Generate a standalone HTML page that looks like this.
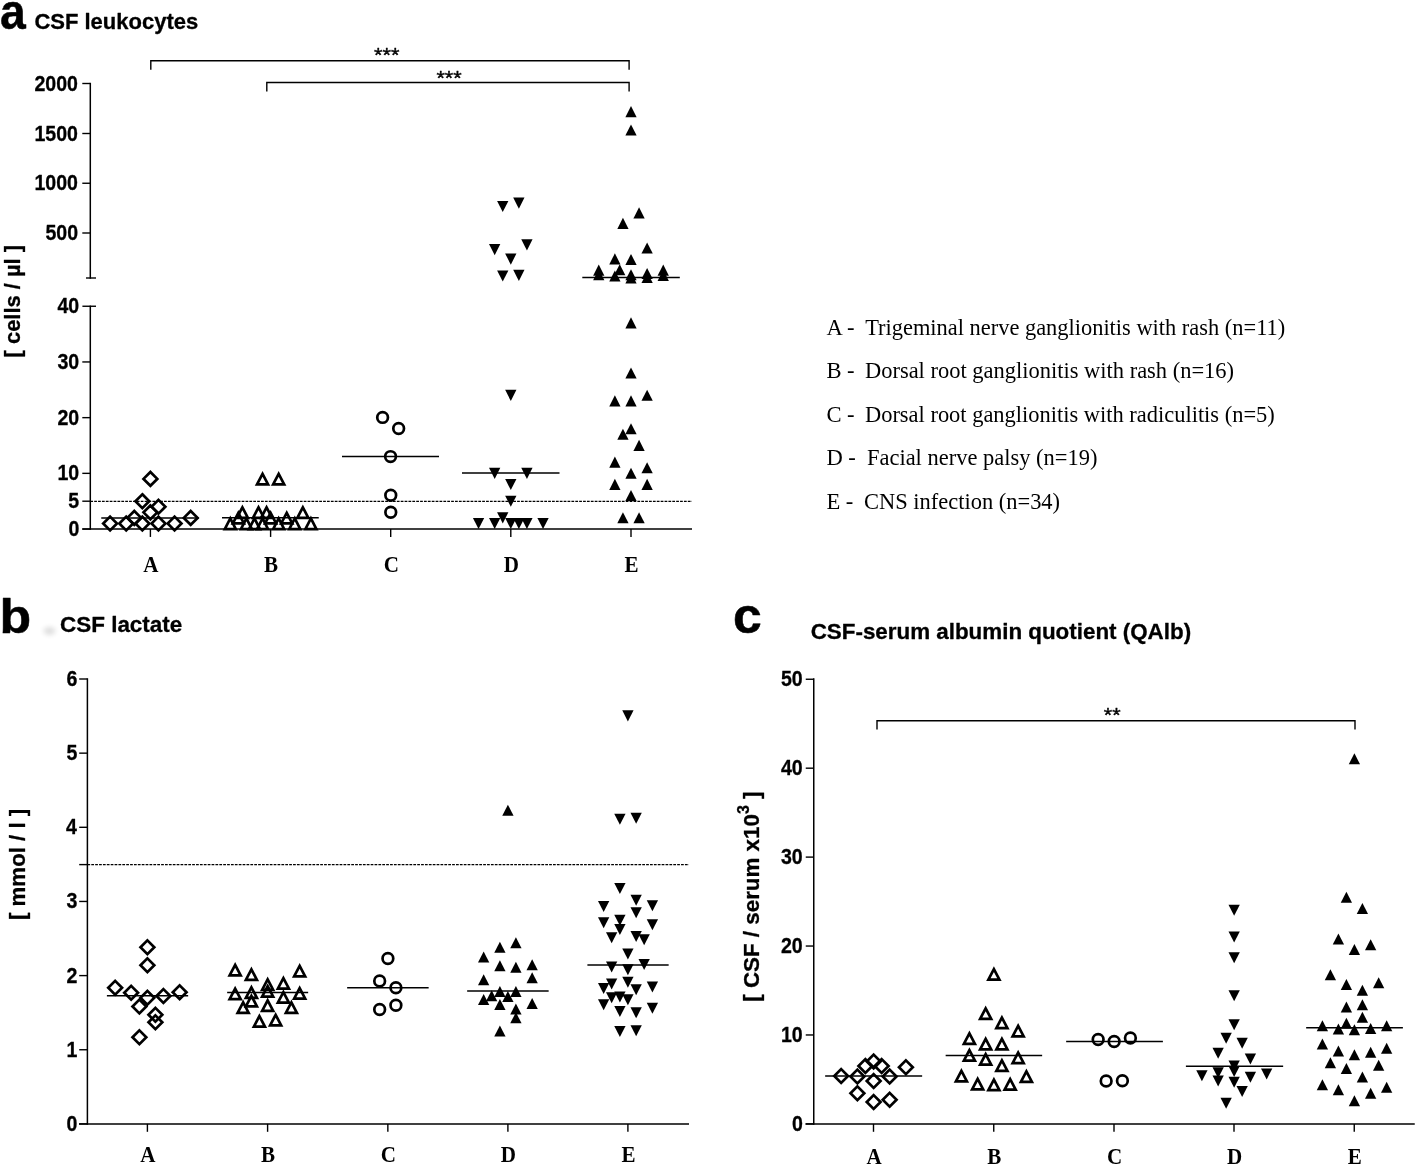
<!DOCTYPE html>
<html lang="en"><head><meta charset="utf-8"><title>CSF parameters</title>
<style>
html,body{margin:0;padding:0;background:#fff;}
body{width:1418px;height:1167px;overflow:hidden;}
svg{display:block;}
</style></head><body>
<svg width="1418" height="1167" viewBox="0 0 1418 1167">
<rect width="1418" height="1167" fill="#fff"/>
<text transform="translate(0.06,29.20) scale(0.9257,1)" font-family='"Liberation Sans", sans-serif' font-size="50" font-weight="bold" fill="#000" stroke="#000" stroke-width="0.5" stroke-linejoin="round" xml:space="preserve">a</text>
<text transform="translate(34.38,29.00) scale(1.0054,1)" font-family='"Liberation Sans", sans-serif' font-size="21.9" font-weight="bold" fill="#000" stroke="#000" stroke-width="0.3" stroke-linejoin="round" xml:space="preserve">CSF leukocytes</text>
<line x1="90.30" y1="82.80" x2="90.30" y2="278.70" stroke="#000" stroke-width="1.5" />
<line x1="82.30" y1="83.50" x2="90.30" y2="83.50" stroke="#000" stroke-width="1.4" />
<text transform="translate(34.48,90.50) scale(0.9100,1)" font-family='"Liberation Sans", sans-serif' font-size="21.5" font-weight="bold" fill="#000" stroke="#000" stroke-width="0.3" stroke-linejoin="round" xml:space="preserve">2000</text>
<line x1="82.30" y1="133.50" x2="90.30" y2="133.50" stroke="#000" stroke-width="1.4" />
<text transform="translate(34.48,140.50) scale(0.9100,1)" font-family='"Liberation Sans", sans-serif' font-size="21.5" font-weight="bold" fill="#000" stroke="#000" stroke-width="0.3" stroke-linejoin="round" xml:space="preserve">1500</text>
<line x1="82.30" y1="183.25" x2="90.30" y2="183.25" stroke="#000" stroke-width="1.4" />
<text transform="translate(34.48,190.25) scale(0.9100,1)" font-family='"Liberation Sans", sans-serif' font-size="21.5" font-weight="bold" fill="#000" stroke="#000" stroke-width="0.3" stroke-linejoin="round" xml:space="preserve">1000</text>
<line x1="82.30" y1="233.00" x2="90.30" y2="233.00" stroke="#000" stroke-width="1.4" />
<text transform="translate(45.41,240.00) scale(0.9100,1)" font-family='"Liberation Sans", sans-serif' font-size="21.5" font-weight="bold" fill="#000" stroke="#000" stroke-width="0.3" stroke-linejoin="round" xml:space="preserve">500</text>
<line x1="86.00" y1="278.00" x2="96.00" y2="278.00" stroke="#000" stroke-width="1.4" />
<line x1="90.30" y1="305.60" x2="90.30" y2="529.80" stroke="#000" stroke-width="1.5" />
<line x1="82.40" y1="306.25" x2="96.00" y2="306.25" stroke="#000" stroke-width="1.4" />
<text transform="translate(57.47,313.25) scale(0.9100,1)" font-family='"Liberation Sans", sans-serif' font-size="21.5" font-weight="bold" fill="#000" stroke="#000" stroke-width="0.3" stroke-linejoin="round" xml:space="preserve">40</text>
<line x1="82.30" y1="361.95" x2="90.30" y2="361.95" stroke="#000" stroke-width="1.4" />
<text transform="translate(57.47,368.95) scale(0.9100,1)" font-family='"Liberation Sans", sans-serif' font-size="21.5" font-weight="bold" fill="#000" stroke="#000" stroke-width="0.3" stroke-linejoin="round" xml:space="preserve">30</text>
<line x1="82.30" y1="417.65" x2="90.30" y2="417.65" stroke="#000" stroke-width="1.4" />
<text transform="translate(57.47,424.65) scale(0.9100,1)" font-family='"Liberation Sans", sans-serif' font-size="21.5" font-weight="bold" fill="#000" stroke="#000" stroke-width="0.3" stroke-linejoin="round" xml:space="preserve">20</text>
<line x1="82.30" y1="473.35" x2="90.30" y2="473.35" stroke="#000" stroke-width="1.4" />
<text transform="translate(57.47,480.35) scale(0.9100,1)" font-family='"Liberation Sans", sans-serif' font-size="21.5" font-weight="bold" fill="#000" stroke="#000" stroke-width="0.3" stroke-linejoin="round" xml:space="preserve">10</text>
<line x1="82.30" y1="501.20" x2="90.30" y2="501.20" stroke="#000" stroke-width="1.4" />
<text transform="translate(68.23,508.20) scale(0.9100,1)" font-family='"Liberation Sans", sans-serif' font-size="21.5" font-weight="bold" fill="#000" stroke="#000" stroke-width="0.3" stroke-linejoin="round" xml:space="preserve">5</text>
<line x1="82.30" y1="529.05" x2="90.30" y2="529.05" stroke="#000" stroke-width="1.4" />
<text transform="translate(68.39,536.05) scale(0.9100,1)" font-family='"Liberation Sans", sans-serif' font-size="21.5" font-weight="bold" fill="#000" stroke="#000" stroke-width="0.3" stroke-linejoin="round" xml:space="preserve">0</text>
<line x1="82.30" y1="529.05" x2="692.00" y2="529.05" stroke="#000" stroke-width="1.5" />
<line x1="150.40" y1="529.05" x2="150.40" y2="536.95" stroke="#000" stroke-width="1.4" />
<text transform="translate(150.95,571.70) scale(0.945,1)" font-family='"Liberation Serif", serif' font-size="22.3" font-weight="bold" text-anchor="middle" fill="#000">A</text>
<line x1="270.60" y1="529.05" x2="270.60" y2="536.95" stroke="#000" stroke-width="1.4" />
<text transform="translate(271.15,571.70) scale(0.945,1)" font-family='"Liberation Serif", serif' font-size="22.3" font-weight="bold" text-anchor="middle" fill="#000">B</text>
<line x1="390.70" y1="529.05" x2="390.70" y2="536.95" stroke="#000" stroke-width="1.4" />
<text transform="translate(391.25,571.70) scale(0.945,1)" font-family='"Liberation Serif", serif' font-size="22.3" font-weight="bold" text-anchor="middle" fill="#000">C</text>
<line x1="510.80" y1="529.05" x2="510.80" y2="536.95" stroke="#000" stroke-width="1.4" />
<text transform="translate(511.35,571.70) scale(0.945,1)" font-family='"Liberation Serif", serif' font-size="22.3" font-weight="bold" text-anchor="middle" fill="#000">D</text>
<line x1="631.00" y1="529.05" x2="631.00" y2="536.95" stroke="#000" stroke-width="1.4" />
<text transform="translate(631.55,571.70) scale(0.945,1)" font-family='"Liberation Serif", serif' font-size="22.3" font-weight="bold" text-anchor="middle" fill="#000">E</text>
<line x1="90.30" y1="501.45" x2="692.00" y2="501.45" stroke="#000" stroke-width="1.3" stroke-dasharray="2.75 1.13"/>
<text transform="translate(19.60,357.38) rotate(-90) scale(0.9736,1)" font-family='"Liberation Sans", sans-serif' font-size="22.5" font-weight="bold" fill="#000" stroke="#000" stroke-width="0.3" stroke-linejoin="round" xml:space="preserve">[ cells / µl ]</text>
<polyline points="150.80,69.75 150.80,60.75 629.10,60.75 629.10,69.75" fill="none" stroke="#000" stroke-width="1.4"/>
<polyline points="266.80,91.50 266.80,82.50 629.10,82.50 629.10,91.50" fill="none" stroke="#000" stroke-width="1.4"/>
<text transform="translate(374.04,62.10) scale(1.1007,1)" font-family='"Liberation Sans", sans-serif' font-size="19.8" font-weight="normal" fill="#000" stroke="#000" stroke-width="0.35" stroke-linejoin="round" xml:space="preserve">***</text>
<text transform="translate(436.44,84.50) scale(1.0918,1)" font-family='"Liberation Sans", sans-serif' font-size="19.8" font-weight="normal" fill="#000" stroke="#000" stroke-width="0.35" stroke-linejoin="round" xml:space="preserve">***</text>
<polygon points="150.40,472.02 157.30,478.92 150.40,485.82 143.50,478.92" fill="none" stroke="#000" stroke-width="2.7" stroke-linejoin="miter"/>
<polygon points="142.34,494.30 149.24,501.20 142.34,508.10 135.44,501.20" fill="none" stroke="#000" stroke-width="2.7" stroke-linejoin="miter"/>
<polygon points="158.46,499.87 165.36,506.77 158.46,513.67 151.56,506.77" fill="none" stroke="#000" stroke-width="2.7" stroke-linejoin="miter"/>
<polygon points="150.40,505.44 157.30,512.34 150.40,519.24 143.50,512.34" fill="none" stroke="#000" stroke-width="2.7" stroke-linejoin="miter"/>
<polygon points="134.28,511.01 141.18,517.91 134.28,524.81 127.38,517.91" fill="none" stroke="#000" stroke-width="2.7" stroke-linejoin="miter"/>
<polygon points="190.70,511.01 197.60,517.91 190.70,524.81 183.80,517.91" fill="none" stroke="#000" stroke-width="2.7" stroke-linejoin="miter"/>
<polygon points="110.10,516.58 117.00,523.48 110.10,530.38 103.20,523.48" fill="none" stroke="#000" stroke-width="2.7" stroke-linejoin="miter"/>
<polygon points="126.22,516.58 133.12,523.48 126.22,530.38 119.32,523.48" fill="none" stroke="#000" stroke-width="2.7" stroke-linejoin="miter"/>
<polygon points="142.34,516.58 149.24,523.48 142.34,530.38 135.44,523.48" fill="none" stroke="#000" stroke-width="2.7" stroke-linejoin="miter"/>
<polygon points="158.46,516.58 165.36,523.48 158.46,530.38 151.56,523.48" fill="none" stroke="#000" stroke-width="2.7" stroke-linejoin="miter"/>
<polygon points="174.58,516.58 181.48,523.48 174.58,530.38 167.68,523.48" fill="none" stroke="#000" stroke-width="2.7" stroke-linejoin="miter"/>
<line x1="101.25" y1="517.95" x2="198.75" y2="517.95" stroke="#000" stroke-width="1.5" />
<polygon points="262.54,473.93 268.06,484.47 257.02,484.47" fill="none" stroke="#000" stroke-width="2.7" stroke-linejoin="miter" stroke-miterlimit="10"/>
<polygon points="278.66,473.93 284.18,484.47 273.14,484.47" fill="none" stroke="#000" stroke-width="2.7" stroke-linejoin="miter" stroke-miterlimit="10"/>
<polygon points="242.39,507.35 247.91,517.89 236.87,517.89" fill="none" stroke="#000" stroke-width="2.7" stroke-linejoin="miter" stroke-miterlimit="10"/>
<polygon points="258.51,507.35 264.03,517.89 252.99,517.89" fill="none" stroke="#000" stroke-width="2.7" stroke-linejoin="miter" stroke-miterlimit="10"/>
<polygon points="266.57,507.35 272.09,517.89 261.05,517.89" fill="none" stroke="#000" stroke-width="2.7" stroke-linejoin="miter" stroke-miterlimit="10"/>
<polygon points="302.84,507.35 308.36,517.89 297.32,517.89" fill="none" stroke="#000" stroke-width="2.7" stroke-linejoin="miter" stroke-miterlimit="10"/>
<polygon points="238.36,512.92 243.88,523.46 232.84,523.46" fill="none" stroke="#000" stroke-width="2.7" stroke-linejoin="miter" stroke-miterlimit="10"/>
<polygon points="270.60,512.92 276.12,523.46 265.08,523.46" fill="none" stroke="#000" stroke-width="2.7" stroke-linejoin="miter" stroke-miterlimit="10"/>
<polygon points="286.72,512.92 292.24,523.46 281.20,523.46" fill="none" stroke="#000" stroke-width="2.7" stroke-linejoin="miter" stroke-miterlimit="10"/>
<polygon points="230.30,518.49 235.82,529.03 224.78,529.03" fill="none" stroke="#000" stroke-width="2.7" stroke-linejoin="miter" stroke-miterlimit="10"/>
<polygon points="246.42,518.49 251.94,529.03 240.90,529.03" fill="none" stroke="#000" stroke-width="2.7" stroke-linejoin="miter" stroke-miterlimit="10"/>
<polygon points="254.48,518.49 260.00,529.03 248.96,529.03" fill="none" stroke="#000" stroke-width="2.7" stroke-linejoin="miter" stroke-miterlimit="10"/>
<polygon points="262.54,518.49 268.06,529.03 257.02,529.03" fill="none" stroke="#000" stroke-width="2.7" stroke-linejoin="miter" stroke-miterlimit="10"/>
<polygon points="278.66,518.49 284.18,529.03 273.14,529.03" fill="none" stroke="#000" stroke-width="2.7" stroke-linejoin="miter" stroke-miterlimit="10"/>
<polygon points="294.78,518.49 300.30,529.03 289.26,529.03" fill="none" stroke="#000" stroke-width="2.7" stroke-linejoin="miter" stroke-miterlimit="10"/>
<polygon points="310.90,518.49 316.42,529.03 305.38,529.03" fill="none" stroke="#000" stroke-width="2.7" stroke-linejoin="miter" stroke-miterlimit="10"/>
<line x1="222.00" y1="517.75" x2="318.75" y2="517.75" stroke="#000" stroke-width="1.5" />
<circle cx="382.60" cy="417.40" r="5.35" fill="none" stroke="#000" stroke-width="2.7"/>
<circle cx="398.65" cy="428.56" r="5.35" fill="none" stroke="#000" stroke-width="2.7"/>
<circle cx="390.55" cy="456.60" r="5.35" fill="none" stroke="#000" stroke-width="2.7"/>
<circle cx="390.75" cy="495.25" r="5.35" fill="none" stroke="#000" stroke-width="2.7"/>
<circle cx="390.75" cy="512.25" r="5.35" fill="none" stroke="#000" stroke-width="2.7"/>
<line x1="342.00" y1="456.60" x2="439.00" y2="456.60" stroke="#000" stroke-width="1.5" />
<polygon points="502.74,212.05 508.39,200.95 497.09,200.95" fill="#000"/>
<polygon points="518.86,208.65 524.51,197.55 513.21,197.55" fill="#000"/>
<polygon points="526.92,250.45 532.57,239.35 521.27,239.35" fill="#000"/>
<polygon points="494.68,255.15 500.33,244.05 489.03,244.05" fill="#000"/>
<polygon points="510.80,264.65 516.45,253.55 505.15,253.55" fill="#000"/>
<polygon points="502.74,281.55 508.39,270.45 497.09,270.45" fill="#000"/>
<polygon points="518.86,280.95 524.51,269.85 513.21,269.85" fill="#000"/>
<polygon points="510.80,400.92 516.45,389.82 505.15,389.82" fill="#000"/>
<polygon points="494.68,478.90 500.33,467.80 489.03,467.80" fill="#000"/>
<polygon points="526.92,478.90 532.57,467.80 521.27,467.80" fill="#000"/>
<polygon points="510.80,490.04 516.45,478.94 505.15,478.94" fill="#000"/>
<polygon points="510.80,506.75 516.45,495.65 505.15,495.65" fill="#000"/>
<polygon points="502.74,523.46 508.39,512.36 497.09,512.36" fill="#000"/>
<polygon points="478.56,529.03 484.21,517.93 472.91,517.93" fill="#000"/>
<polygon points="494.68,529.03 500.33,517.93 489.03,517.93" fill="#000"/>
<polygon points="510.80,529.03 516.45,517.93 505.15,517.93" fill="#000"/>
<polygon points="518.86,529.03 524.51,517.93 513.21,517.93" fill="#000"/>
<polygon points="526.92,529.03 532.57,517.93 521.27,517.93" fill="#000"/>
<polygon points="543.04,529.03 548.69,517.93 537.39,517.93" fill="#000"/>
<line x1="462.00" y1="473.10" x2="559.50" y2="473.10" stroke="#000" stroke-width="1.5" />
<polygon points="631.00,106.05 636.65,117.15 625.35,117.15" fill="#000"/>
<polygon points="631.00,124.45 636.65,135.55 625.35,135.55" fill="#000"/>
<polygon points="639.06,207.35 644.71,218.45 633.41,218.45" fill="#000"/>
<polygon points="622.94,217.85 628.59,228.95 617.29,228.95" fill="#000"/>
<polygon points="647.12,242.45 652.77,253.55 641.47,253.55" fill="#000"/>
<polygon points="614.88,253.35 620.53,264.45 609.23,264.45" fill="#000"/>
<polygon points="631.00,253.95 636.65,265.05 625.35,265.05" fill="#000"/>
<polygon points="598.76,264.55 604.41,275.65 593.11,275.65" fill="#000"/>
<polygon points="598.76,269.15 604.41,280.25 593.11,280.25" fill="#000"/>
<polygon points="614.88,270.45 620.53,281.55 609.23,281.55" fill="#000"/>
<polygon points="619.72,264.25 625.37,275.35 614.07,275.35" fill="#000"/>
<polygon points="631.00,269.15 636.65,280.25 625.35,280.25" fill="#000"/>
<polygon points="631.00,272.45 636.65,283.55 625.35,283.55" fill="#000"/>
<polygon points="647.12,267.95 652.77,279.05 641.47,279.05" fill="#000"/>
<polygon points="647.12,271.95 652.77,283.05 641.47,283.05" fill="#000"/>
<polygon points="663.24,264.55 668.89,275.65 657.59,275.65" fill="#000"/>
<polygon points="663.24,269.85 668.89,280.95 657.59,280.95" fill="#000"/>
<polygon points="631.00,317.31 636.65,328.41 625.35,328.41" fill="#000"/>
<polygon points="631.00,367.44 636.65,378.54 625.35,378.54" fill="#000"/>
<polygon points="647.12,389.72 652.77,400.82 641.47,400.82" fill="#000"/>
<polygon points="614.88,395.29 620.53,406.39 609.23,406.39" fill="#000"/>
<polygon points="631.00,395.29 636.65,406.39 625.35,406.39" fill="#000"/>
<polygon points="631.00,423.14 636.65,434.24 625.35,434.24" fill="#000"/>
<polygon points="622.94,428.71 628.59,439.81 617.29,439.81" fill="#000"/>
<polygon points="639.06,439.85 644.71,450.95 633.41,450.95" fill="#000"/>
<polygon points="614.88,456.56 620.53,467.66 609.23,467.66" fill="#000"/>
<polygon points="647.12,462.13 652.77,473.23 641.47,473.23" fill="#000"/>
<polygon points="631.00,467.70 636.65,478.80 625.35,478.80" fill="#000"/>
<polygon points="614.88,478.84 620.53,489.94 609.23,489.94" fill="#000"/>
<polygon points="647.12,478.84 652.77,489.94 641.47,489.94" fill="#000"/>
<polygon points="631.00,489.98 636.65,501.08 625.35,501.08" fill="#000"/>
<polygon points="622.94,512.26 628.59,523.36 617.29,523.36" fill="#000"/>
<polygon points="639.06,512.26 644.71,523.36 633.41,523.36" fill="#000"/>
<line x1="582.30" y1="277.60" x2="679.80" y2="277.60" stroke="#000" stroke-width="1.5" />
<text x="826.40" y="334.50" font-family='"Liberation Serif", serif' font-size="22.6" font-weight="normal" text-anchor="start" fill="#000" >A -</text>
<text transform="translate(865.13,334.50) scale(0.9928,1)" font-family='"Liberation Serif", serif' font-size="22.6" font-weight="normal" fill="#000" xml:space="preserve">Trigeminal nerve ganglionitis with rash (n=11)</text>
<text x="826.40" y="378.25" font-family='"Liberation Serif", serif' font-size="22.6" font-weight="normal" text-anchor="start" fill="#000" >B -</text>
<text transform="translate(864.94,378.25) scale(0.9952,1)" font-family='"Liberation Serif", serif' font-size="22.6" font-weight="normal" fill="#000" xml:space="preserve">Dorsal root ganglionitis with rash (n=16)</text>
<text x="826.40" y="421.50" font-family='"Liberation Serif", serif' font-size="22.6" font-weight="normal" text-anchor="start" fill="#000" >C -</text>
<text transform="translate(864.94,421.50) scale(0.9941,1)" font-family='"Liberation Serif", serif' font-size="22.6" font-weight="normal" fill="#000" xml:space="preserve">Dorsal root ganglionitis with radiculitis (n=5)</text>
<text x="826.40" y="465.25" font-family='"Liberation Serif", serif' font-size="22.6" font-weight="normal" text-anchor="start" fill="#000" >D -</text>
<text transform="translate(866.94,465.25) scale(0.9950,1)" font-family='"Liberation Serif", serif' font-size="22.6" font-weight="normal" fill="#000" xml:space="preserve">Facial nerve palsy (n=19)</text>
<text x="826.40" y="509.00" font-family='"Liberation Serif", serif' font-size="22.6" font-weight="normal" text-anchor="start" fill="#000" >E -</text>
<text transform="translate(864.06,509.00) scale(0.9946,1)" font-family='"Liberation Serif", serif' font-size="22.6" font-weight="normal" fill="#000" xml:space="preserve">CNS infection (n=34)</text>
<defs><filter id="bl" x="-100%" y="-100%" width="300%" height="300%"><feGaussianBlur stdDeviation="2.6"/></filter></defs>
<ellipse cx="49.5" cy="631" rx="6" ry="4" fill="#000" opacity="0.13" filter="url(#bl)"/>
<text transform="translate(-0.55,633.20) scale(1.0680,1)" font-family='"Liberation Sans", sans-serif' font-size="48.5" font-weight="bold" fill="#000" stroke="#000" stroke-width="0.5" stroke-linejoin="round" xml:space="preserve">b</text>
<text transform="translate(60.06,631.60) scale(1.0253,1)" font-family='"Liberation Sans", sans-serif' font-size="21.9" font-weight="bold" fill="#000" stroke="#000" stroke-width="0.3" stroke-linejoin="round" xml:space="preserve">CSF lactate</text>
<line x1="87.40" y1="678.30" x2="87.40" y2="1124.65" stroke="#000" stroke-width="1.5" />
<line x1="79.20" y1="1123.90" x2="87.40" y2="1123.90" stroke="#000" stroke-width="1.4" />
<text transform="translate(66.59,1130.90) scale(0.9100,1)" font-family='"Liberation Sans", sans-serif' font-size="21.5" font-weight="bold" fill="#000" stroke="#000" stroke-width="0.3" stroke-linejoin="round" xml:space="preserve">0</text>
<line x1="79.20" y1="1049.75" x2="87.40" y2="1049.75" stroke="#000" stroke-width="1.4" />
<text transform="translate(66.43,1056.75) scale(0.9100,1)" font-family='"Liberation Sans", sans-serif' font-size="21.5" font-weight="bold" fill="#000" stroke="#000" stroke-width="0.3" stroke-linejoin="round" xml:space="preserve">1</text>
<line x1="79.20" y1="975.60" x2="87.40" y2="975.60" stroke="#000" stroke-width="1.4" />
<text transform="translate(66.59,982.60) scale(0.9100,1)" font-family='"Liberation Sans", sans-serif' font-size="21.5" font-weight="bold" fill="#000" stroke="#000" stroke-width="0.3" stroke-linejoin="round" xml:space="preserve">2</text>
<line x1="79.20" y1="901.45" x2="87.40" y2="901.45" stroke="#000" stroke-width="1.4" />
<text transform="translate(66.59,908.45) scale(0.9100,1)" font-family='"Liberation Sans", sans-serif' font-size="21.5" font-weight="bold" fill="#000" stroke="#000" stroke-width="0.3" stroke-linejoin="round" xml:space="preserve">3</text>
<line x1="79.20" y1="827.30" x2="87.40" y2="827.30" stroke="#000" stroke-width="1.4" />
<text transform="translate(65.94,834.30) scale(0.9100,1)" font-family='"Liberation Sans", sans-serif' font-size="21.5" font-weight="bold" fill="#000" stroke="#000" stroke-width="0.3" stroke-linejoin="round" xml:space="preserve">4</text>
<line x1="79.20" y1="753.15" x2="87.40" y2="753.15" stroke="#000" stroke-width="1.4" />
<text transform="translate(66.43,760.15) scale(0.9100,1)" font-family='"Liberation Sans", sans-serif' font-size="21.5" font-weight="bold" fill="#000" stroke="#000" stroke-width="0.3" stroke-linejoin="round" xml:space="preserve">5</text>
<line x1="79.20" y1="679.00" x2="87.40" y2="679.00" stroke="#000" stroke-width="1.4" />
<text transform="translate(66.59,686.00) scale(0.9100,1)" font-family='"Liberation Sans", sans-serif' font-size="21.5" font-weight="bold" fill="#000" stroke="#000" stroke-width="0.3" stroke-linejoin="round" xml:space="preserve">6</text>
<line x1="79.00" y1="1123.90" x2="689.00" y2="1123.90" stroke="#000" stroke-width="1.5" />
<line x1="147.40" y1="1123.90" x2="147.40" y2="1131.80" stroke="#000" stroke-width="1.4" />
<text transform="translate(147.95,1161.80) scale(0.945,1)" font-family='"Liberation Serif", serif' font-size="22.3" font-weight="bold" text-anchor="middle" fill="#000">A</text>
<line x1="267.60" y1="1123.90" x2="267.60" y2="1131.80" stroke="#000" stroke-width="1.4" />
<text transform="translate(268.15,1161.80) scale(0.945,1)" font-family='"Liberation Serif", serif' font-size="22.3" font-weight="bold" text-anchor="middle" fill="#000">B</text>
<line x1="387.85" y1="1123.90" x2="387.85" y2="1131.80" stroke="#000" stroke-width="1.4" />
<text transform="translate(388.40,1161.80) scale(0.945,1)" font-family='"Liberation Serif", serif' font-size="22.3" font-weight="bold" text-anchor="middle" fill="#000">C</text>
<line x1="507.90" y1="1123.90" x2="507.90" y2="1131.80" stroke="#000" stroke-width="1.4" />
<text transform="translate(508.45,1161.80) scale(0.945,1)" font-family='"Liberation Serif", serif' font-size="22.3" font-weight="bold" text-anchor="middle" fill="#000">D</text>
<line x1="627.90" y1="1123.90" x2="627.90" y2="1131.80" stroke="#000" stroke-width="1.4" />
<text transform="translate(628.45,1161.80) scale(0.945,1)" font-family='"Liberation Serif", serif' font-size="22.3" font-weight="bold" text-anchor="middle" fill="#000">E</text>
<line x1="79.20" y1="864.60" x2="87.40" y2="864.60" stroke="#000" stroke-width="1.4" />
<line x1="87.40" y1="864.60" x2="689.00" y2="864.60" stroke="#000" stroke-width="1.3" stroke-dasharray="2.75 1.13"/>
<text transform="translate(25.20,920.00) rotate(-90) scale(0.9893,1)" font-family='"Liberation Sans", sans-serif' font-size="22.5" font-weight="bold" fill="#000" stroke="#000" stroke-width="0.3" stroke-linejoin="round" xml:space="preserve">[ mmol / l ]</text>
<polygon points="147.40,940.40 154.30,947.30 147.40,954.20 140.50,947.30" fill="none" stroke="#000" stroke-width="2.7" stroke-linejoin="miter"/>
<polygon points="147.40,958.40 154.30,965.30 147.40,972.20 140.50,965.30" fill="none" stroke="#000" stroke-width="2.7" stroke-linejoin="miter"/>
<polygon points="115.15,980.90 122.05,987.80 115.15,994.70 108.25,987.80" fill="none" stroke="#000" stroke-width="2.7" stroke-linejoin="miter"/>
<polygon points="131.15,985.90 138.05,992.80 131.15,999.70 124.25,992.80" fill="none" stroke="#000" stroke-width="2.7" stroke-linejoin="miter"/>
<polygon points="179.65,985.40 186.55,992.30 179.65,999.20 172.75,992.30" fill="none" stroke="#000" stroke-width="2.7" stroke-linejoin="miter"/>
<polygon points="163.40,989.15 170.30,996.05 163.40,1002.95 156.50,996.05" fill="none" stroke="#000" stroke-width="2.7" stroke-linejoin="miter"/>
<polygon points="147.40,990.90 154.30,997.80 147.40,1004.70 140.50,997.80" fill="none" stroke="#000" stroke-width="2.7" stroke-linejoin="miter"/>
<polygon points="139.40,999.65 146.30,1006.55 139.40,1013.45 132.50,1006.55" fill="none" stroke="#000" stroke-width="2.7" stroke-linejoin="miter"/>
<polygon points="155.40,1007.90 162.30,1014.80 155.40,1021.70 148.50,1014.80" fill="none" stroke="#000" stroke-width="2.7" stroke-linejoin="miter"/>
<polygon points="155.40,1015.40 162.30,1022.30 155.40,1029.20 148.50,1022.30" fill="none" stroke="#000" stroke-width="2.7" stroke-linejoin="miter"/>
<polygon points="139.40,1030.40 146.30,1037.30 139.40,1044.20 132.50,1037.30" fill="none" stroke="#000" stroke-width="2.7" stroke-linejoin="miter"/>
<line x1="106.90" y1="995.80" x2="188.15" y2="995.80" stroke="#000" stroke-width="1.5" />
<polygon points="235.15,964.81 240.67,975.35 229.63,975.35" fill="none" stroke="#000" stroke-width="2.7" stroke-linejoin="miter" stroke-miterlimit="10"/>
<polygon points="251.40,969.31 256.92,979.85 245.88,979.85" fill="none" stroke="#000" stroke-width="2.7" stroke-linejoin="miter" stroke-miterlimit="10"/>
<polygon points="299.65,965.81 305.17,976.35 294.13,976.35" fill="none" stroke="#000" stroke-width="2.7" stroke-linejoin="miter" stroke-miterlimit="10"/>
<polygon points="267.65,979.31 273.17,989.85 262.13,989.85" fill="none" stroke="#000" stroke-width="2.7" stroke-linejoin="miter" stroke-miterlimit="10"/>
<polygon points="283.40,978.06 288.92,988.60 277.88,988.60" fill="none" stroke="#000" stroke-width="2.7" stroke-linejoin="miter" stroke-miterlimit="10"/>
<polygon points="235.15,988.56 240.67,999.10 229.63,999.10" fill="none" stroke="#000" stroke-width="2.7" stroke-linejoin="miter" stroke-miterlimit="10"/>
<polygon points="251.40,987.31 256.92,997.85 245.88,997.85" fill="none" stroke="#000" stroke-width="2.7" stroke-linejoin="miter" stroke-miterlimit="10"/>
<polygon points="267.65,986.06 273.17,996.60 262.13,996.60" fill="none" stroke="#000" stroke-width="2.7" stroke-linejoin="miter" stroke-miterlimit="10"/>
<polygon points="299.65,988.06 305.17,998.60 294.13,998.60" fill="none" stroke="#000" stroke-width="2.7" stroke-linejoin="miter" stroke-miterlimit="10"/>
<polygon points="283.40,992.06 288.92,1002.60 277.88,1002.60" fill="none" stroke="#000" stroke-width="2.7" stroke-linejoin="miter" stroke-miterlimit="10"/>
<polygon points="251.40,995.81 256.92,1006.35 245.88,1006.35" fill="none" stroke="#000" stroke-width="2.7" stroke-linejoin="miter" stroke-miterlimit="10"/>
<polygon points="243.15,1002.31 248.67,1012.85 237.63,1012.85" fill="none" stroke="#000" stroke-width="2.7" stroke-linejoin="miter" stroke-miterlimit="10"/>
<polygon points="267.65,1000.31 273.17,1010.85 262.13,1010.85" fill="none" stroke="#000" stroke-width="2.7" stroke-linejoin="miter" stroke-miterlimit="10"/>
<polygon points="291.40,1002.31 296.92,1012.85 285.88,1012.85" fill="none" stroke="#000" stroke-width="2.7" stroke-linejoin="miter" stroke-miterlimit="10"/>
<polygon points="259.40,1016.06 264.92,1026.60 253.88,1026.60" fill="none" stroke="#000" stroke-width="2.7" stroke-linejoin="miter" stroke-miterlimit="10"/>
<polygon points="275.65,1014.81 281.17,1025.35 270.13,1025.35" fill="none" stroke="#000" stroke-width="2.7" stroke-linejoin="miter" stroke-miterlimit="10"/>
<line x1="227.15" y1="992.55" x2="308.15" y2="992.55" stroke="#000" stroke-width="1.5" />
<circle cx="387.90" cy="958.55" r="5.35" fill="none" stroke="#000" stroke-width="2.7"/>
<circle cx="379.65" cy="981.05" r="5.35" fill="none" stroke="#000" stroke-width="2.7"/>
<circle cx="395.90" cy="987.80" r="5.35" fill="none" stroke="#000" stroke-width="2.7"/>
<circle cx="395.90" cy="1005.30" r="5.35" fill="none" stroke="#000" stroke-width="2.7"/>
<circle cx="379.65" cy="1009.55" r="5.35" fill="none" stroke="#000" stroke-width="2.7"/>
<line x1="347.15" y1="987.80" x2="428.65" y2="987.80" stroke="#000" stroke-width="1.5" />
<polygon points="507.90,804.65 513.55,815.75 502.25,815.75" fill="#000"/>
<polygon points="515.90,937.25 521.55,948.35 510.25,948.35" fill="#000"/>
<polygon points="499.90,941.75 505.55,952.85 494.25,952.85" fill="#000"/>
<polygon points="483.65,951.50 489.30,962.60 478.00,962.60" fill="#000"/>
<polygon points="499.90,960.25 505.55,971.35 494.25,971.35" fill="#000"/>
<polygon points="515.90,961.75 521.55,972.85 510.25,972.85" fill="#000"/>
<polygon points="532.15,959.25 537.80,970.35 526.50,970.35" fill="#000"/>
<polygon points="532.15,972.25 537.80,983.35 526.50,983.35" fill="#000"/>
<polygon points="483.65,974.25 489.30,985.35 478.00,985.35" fill="#000"/>
<polygon points="499.90,986.00 505.55,997.10 494.25,997.10" fill="#000"/>
<polygon points="515.90,986.00 521.55,997.10 510.25,997.10" fill="#000"/>
<polygon points="491.65,990.25 497.30,1001.35 486.00,1001.35" fill="#000"/>
<polygon points="507.90,991.00 513.55,1002.10 502.25,1002.10" fill="#000"/>
<polygon points="483.65,994.00 489.30,1005.10 478.00,1005.10" fill="#000"/>
<polygon points="499.90,999.00 505.55,1010.10 494.25,1010.10" fill="#000"/>
<polygon points="532.15,998.00 537.80,1009.10 526.50,1009.10" fill="#000"/>
<polygon points="515.90,1003.50 521.55,1014.60 510.25,1014.60" fill="#000"/>
<polygon points="515.90,1012.25 521.55,1023.35 510.25,1023.35" fill="#000"/>
<polygon points="499.90,1025.50 505.55,1036.60 494.25,1036.60" fill="#000"/>
<line x1="467.15" y1="991.05" x2="548.65" y2="991.05" stroke="#000" stroke-width="1.5" />
<polygon points="627.90,721.45 633.55,710.35 622.25,710.35" fill="#000"/>
<polygon points="619.90,824.85 625.55,813.75 614.25,813.75" fill="#000"/>
<polygon points="636.15,823.85 641.80,812.75 630.50,812.75" fill="#000"/>
<polygon points="619.90,894.10 625.55,883.00 614.25,883.00" fill="#000"/>
<polygon points="636.15,905.85 641.80,894.75 630.50,894.75" fill="#000"/>
<polygon points="603.65,912.10 609.30,901.00 598.00,901.00" fill="#000"/>
<polygon points="652.40,911.35 658.05,900.25 646.75,900.25" fill="#000"/>
<polygon points="636.15,918.35 641.80,907.25 630.50,907.25" fill="#000"/>
<polygon points="619.90,925.85 625.55,914.75 614.25,914.75" fill="#000"/>
<polygon points="603.65,928.35 609.30,917.25 598.00,917.25" fill="#000"/>
<polygon points="652.40,930.35 658.05,919.25 646.75,919.25" fill="#000"/>
<polygon points="619.90,935.10 625.55,924.00 614.25,924.00" fill="#000"/>
<polygon points="611.65,943.35 617.30,932.25 606.00,932.25" fill="#000"/>
<polygon points="636.15,942.10 641.80,931.00 630.50,931.00" fill="#000"/>
<polygon points="644.15,945.35 649.80,934.25 638.50,934.25" fill="#000"/>
<polygon points="627.90,959.60 633.55,948.50 622.25,948.50" fill="#000"/>
<polygon points="611.65,972.60 617.30,961.50 606.00,961.50" fill="#000"/>
<polygon points="627.90,975.35 633.55,964.25 622.25,964.25" fill="#000"/>
<polygon points="644.15,970.10 649.80,959.00 638.50,959.00" fill="#000"/>
<polygon points="611.65,989.60 617.30,978.50 606.00,978.50" fill="#000"/>
<polygon points="627.90,987.85 633.55,976.75 622.25,976.75" fill="#000"/>
<polygon points="603.65,994.10 609.30,983.00 598.00,983.00" fill="#000"/>
<polygon points="636.15,995.35 641.80,984.25 630.50,984.25" fill="#000"/>
<polygon points="652.40,992.60 658.05,981.50 646.75,981.50" fill="#000"/>
<polygon points="611.65,1003.35 617.30,992.25 606.00,992.25" fill="#000"/>
<polygon points="619.90,1002.60 625.55,991.50 614.25,991.50" fill="#000"/>
<polygon points="627.90,1005.35 633.55,994.25 622.25,994.25" fill="#000"/>
<polygon points="603.65,1010.35 609.30,999.25 598.00,999.25" fill="#000"/>
<polygon points="619.90,1017.10 625.55,1006.00 614.25,1006.00" fill="#000"/>
<polygon points="636.15,1018.35 641.80,1007.25 630.50,1007.25" fill="#000"/>
<polygon points="652.40,1013.85 658.05,1002.75 646.75,1002.75" fill="#000"/>
<polygon points="619.90,1037.10 625.55,1026.00 614.25,1026.00" fill="#000"/>
<polygon points="636.15,1036.35 641.80,1025.25 630.50,1025.25" fill="#000"/>
<line x1="587.40" y1="965.05" x2="668.65" y2="965.05" stroke="#000" stroke-width="1.5" />
<text transform="translate(733.04,633.30) scale(1.0242,1)" font-family='"Liberation Sans", sans-serif' font-size="50.5" font-weight="bold" fill="#000" stroke="#000" stroke-width="0.5" stroke-linejoin="round" xml:space="preserve">c</text>
<text transform="translate(810.67,639.00) scale(1.0089,1)" font-family='"Liberation Sans", sans-serif' font-size="22.2" font-weight="bold" fill="#000" stroke="#000" stroke-width="0.3" stroke-linejoin="round" xml:space="preserve">CSF-serum albumin quotient (QAlb)</text>
<line x1="813.75" y1="678.30" x2="813.75" y2="1124.65" stroke="#000" stroke-width="1.5" />
<line x1="805.75" y1="1123.90" x2="813.75" y2="1123.90" stroke="#000" stroke-width="1.4" />
<text transform="translate(791.89,1130.90) scale(0.9100,1)" font-family='"Liberation Sans", sans-serif' font-size="21.5" font-weight="bold" fill="#000" stroke="#000" stroke-width="0.3" stroke-linejoin="round" xml:space="preserve">0</text>
<line x1="805.75" y1="1034.97" x2="813.75" y2="1034.97" stroke="#000" stroke-width="1.4" />
<text transform="translate(780.97,1041.97) scale(0.9100,1)" font-family='"Liberation Sans", sans-serif' font-size="21.5" font-weight="bold" fill="#000" stroke="#000" stroke-width="0.3" stroke-linejoin="round" xml:space="preserve">10</text>
<line x1="805.75" y1="946.04" x2="813.75" y2="946.04" stroke="#000" stroke-width="1.4" />
<text transform="translate(780.97,953.04) scale(0.9100,1)" font-family='"Liberation Sans", sans-serif' font-size="21.5" font-weight="bold" fill="#000" stroke="#000" stroke-width="0.3" stroke-linejoin="round" xml:space="preserve">20</text>
<line x1="805.75" y1="857.11" x2="813.75" y2="857.11" stroke="#000" stroke-width="1.4" />
<text transform="translate(780.97,864.11) scale(0.9100,1)" font-family='"Liberation Sans", sans-serif' font-size="21.5" font-weight="bold" fill="#000" stroke="#000" stroke-width="0.3" stroke-linejoin="round" xml:space="preserve">30</text>
<line x1="805.75" y1="768.18" x2="813.75" y2="768.18" stroke="#000" stroke-width="1.4" />
<text transform="translate(780.97,775.18) scale(0.9100,1)" font-family='"Liberation Sans", sans-serif' font-size="21.5" font-weight="bold" fill="#000" stroke="#000" stroke-width="0.3" stroke-linejoin="round" xml:space="preserve">40</text>
<line x1="805.75" y1="679.25" x2="813.75" y2="679.25" stroke="#000" stroke-width="1.4" />
<text transform="translate(780.97,686.25) scale(0.9100,1)" font-family='"Liberation Sans", sans-serif' font-size="21.5" font-weight="bold" fill="#000" stroke="#000" stroke-width="0.3" stroke-linejoin="round" xml:space="preserve">50</text>
<line x1="805.50" y1="1123.90" x2="1414.75" y2="1123.90" stroke="#000" stroke-width="1.5" />
<line x1="873.50" y1="1123.90" x2="873.50" y2="1131.80" stroke="#000" stroke-width="1.4" />
<text transform="translate(874.05,1163.70) scale(0.945,1)" font-family='"Liberation Serif", serif' font-size="22.3" font-weight="bold" text-anchor="middle" fill="#000">A</text>
<line x1="993.75" y1="1123.90" x2="993.75" y2="1131.80" stroke="#000" stroke-width="1.4" />
<text transform="translate(994.30,1163.70) scale(0.945,1)" font-family='"Liberation Serif", serif' font-size="22.3" font-weight="bold" text-anchor="middle" fill="#000">B</text>
<line x1="1114.00" y1="1123.90" x2="1114.00" y2="1131.80" stroke="#000" stroke-width="1.4" />
<text transform="translate(1114.55,1163.70) scale(0.945,1)" font-family='"Liberation Serif", serif' font-size="22.3" font-weight="bold" text-anchor="middle" fill="#000">C</text>
<line x1="1234.00" y1="1123.90" x2="1234.00" y2="1131.80" stroke="#000" stroke-width="1.4" />
<text transform="translate(1234.55,1163.70) scale(0.945,1)" font-family='"Liberation Serif", serif' font-size="22.3" font-weight="bold" text-anchor="middle" fill="#000">D</text>
<line x1="1354.25" y1="1123.90" x2="1354.25" y2="1131.80" stroke="#000" stroke-width="1.4" />
<text transform="translate(1354.80,1163.70) scale(0.945,1)" font-family='"Liberation Serif", serif' font-size="22.3" font-weight="bold" text-anchor="middle" fill="#000">E</text>
<text transform="translate(759.10,1001.70) rotate(-90) scale(0.9940,1)" font-family='"Liberation Sans", sans-serif' font-size="22.5" font-weight="bold" fill="#000" stroke="#000" stroke-width="0.3" stroke-linejoin="round" xml:space="preserve">[ CSF / serum x10<tspan font-size="0.72em" dy="-0.62em">3</tspan><tspan dy="0.4464em"> ]</tspan></text>
<polyline points="877.00,729.50 877.00,720.75 1355.00,720.75 1355.00,729.50" fill="none" stroke="#000" stroke-width="1.4"/>
<text transform="translate(1103.84,722.30) scale(1.0895,1)" font-family='"Liberation Sans", sans-serif' font-size="19.8" font-weight="normal" fill="#000" stroke="#000" stroke-width="0.35" stroke-linejoin="round" xml:space="preserve">**</text>
<polygon points="873.65,1054.65 880.55,1061.55 873.65,1068.45 866.75,1061.55" fill="none" stroke="#000" stroke-width="2.7" stroke-linejoin="miter"/>
<polygon points="865.40,1059.15 872.30,1066.05 865.40,1072.95 858.50,1066.05" fill="none" stroke="#000" stroke-width="2.7" stroke-linejoin="miter"/>
<polygon points="881.65,1059.15 888.55,1066.05 881.65,1072.95 874.75,1066.05" fill="none" stroke="#000" stroke-width="2.7" stroke-linejoin="miter"/>
<polygon points="905.90,1060.40 912.80,1067.30 905.90,1074.20 899.00,1067.30" fill="none" stroke="#000" stroke-width="2.7" stroke-linejoin="miter"/>
<polygon points="841.15,1069.15 848.05,1076.05 841.15,1082.95 834.25,1076.05" fill="none" stroke="#000" stroke-width="2.7" stroke-linejoin="miter"/>
<polygon points="857.40,1069.65 864.30,1076.55 857.40,1083.45 850.50,1076.55" fill="none" stroke="#000" stroke-width="2.7" stroke-linejoin="miter"/>
<polygon points="889.65,1069.65 896.55,1076.55 889.65,1083.45 882.75,1076.55" fill="none" stroke="#000" stroke-width="2.7" stroke-linejoin="miter"/>
<polygon points="873.65,1074.15 880.55,1081.05 873.65,1087.95 866.75,1081.05" fill="none" stroke="#000" stroke-width="2.7" stroke-linejoin="miter"/>
<polygon points="857.40,1086.40 864.30,1093.30 857.40,1100.20 850.50,1093.30" fill="none" stroke="#000" stroke-width="2.7" stroke-linejoin="miter"/>
<polygon points="873.65,1095.15 880.55,1102.05 873.65,1108.95 866.75,1102.05" fill="none" stroke="#000" stroke-width="2.7" stroke-linejoin="miter"/>
<polygon points="889.65,1092.90 896.55,1099.80 889.65,1106.70 882.75,1099.80" fill="none" stroke="#000" stroke-width="2.7" stroke-linejoin="miter"/>
<line x1="825.15" y1="1076.05" x2="922.15" y2="1076.05" stroke="#000" stroke-width="1.5" />
<polygon points="993.90,969.06 999.42,979.60 988.38,979.60" fill="none" stroke="#000" stroke-width="2.7" stroke-linejoin="miter" stroke-miterlimit="10"/>
<polygon points="985.65,1008.31 991.17,1018.85 980.13,1018.85" fill="none" stroke="#000" stroke-width="2.7" stroke-linejoin="miter" stroke-miterlimit="10"/>
<polygon points="1001.90,1017.56 1007.42,1028.10 996.38,1028.10" fill="none" stroke="#000" stroke-width="2.7" stroke-linejoin="miter" stroke-miterlimit="10"/>
<polygon points="1018.15,1025.81 1023.67,1036.35 1012.63,1036.35" fill="none" stroke="#000" stroke-width="2.7" stroke-linejoin="miter" stroke-miterlimit="10"/>
<polygon points="969.40,1033.31 974.92,1043.85 963.88,1043.85" fill="none" stroke="#000" stroke-width="2.7" stroke-linejoin="miter" stroke-miterlimit="10"/>
<polygon points="985.65,1038.81 991.17,1049.35 980.13,1049.35" fill="none" stroke="#000" stroke-width="2.7" stroke-linejoin="miter" stroke-miterlimit="10"/>
<polygon points="1001.90,1038.81 1007.42,1049.35 996.38,1049.35" fill="none" stroke="#000" stroke-width="2.7" stroke-linejoin="miter" stroke-miterlimit="10"/>
<polygon points="969.40,1050.06 974.92,1060.60 963.88,1060.60" fill="none" stroke="#000" stroke-width="2.7" stroke-linejoin="miter" stroke-miterlimit="10"/>
<polygon points="985.65,1054.06 991.17,1064.60 980.13,1064.60" fill="none" stroke="#000" stroke-width="2.7" stroke-linejoin="miter" stroke-miterlimit="10"/>
<polygon points="1018.15,1052.56 1023.67,1063.10 1012.63,1063.10" fill="none" stroke="#000" stroke-width="2.7" stroke-linejoin="miter" stroke-miterlimit="10"/>
<polygon points="1001.90,1060.31 1007.42,1070.85 996.38,1070.85" fill="none" stroke="#000" stroke-width="2.7" stroke-linejoin="miter" stroke-miterlimit="10"/>
<polygon points="961.40,1070.81 966.92,1081.35 955.88,1081.35" fill="none" stroke="#000" stroke-width="2.7" stroke-linejoin="miter" stroke-miterlimit="10"/>
<polygon points="1026.40,1071.31 1031.92,1081.85 1020.88,1081.85" fill="none" stroke="#000" stroke-width="2.7" stroke-linejoin="miter" stroke-miterlimit="10"/>
<polygon points="977.65,1078.81 983.17,1089.35 972.13,1089.35" fill="none" stroke="#000" stroke-width="2.7" stroke-linejoin="miter" stroke-miterlimit="10"/>
<polygon points="993.90,1079.56 999.42,1090.10 988.38,1090.10" fill="none" stroke="#000" stroke-width="2.7" stroke-linejoin="miter" stroke-miterlimit="10"/>
<polygon points="1010.15,1079.06 1015.67,1089.60 1004.63,1089.60" fill="none" stroke="#000" stroke-width="2.7" stroke-linejoin="miter" stroke-miterlimit="10"/>
<line x1="945.65" y1="1055.55" x2="1042.15" y2="1055.55" stroke="#000" stroke-width="1.5" />
<circle cx="1098.15" cy="1039.55" r="5.35" fill="none" stroke="#000" stroke-width="2.7"/>
<circle cx="1114.15" cy="1041.55" r="5.35" fill="none" stroke="#000" stroke-width="2.7"/>
<circle cx="1130.40" cy="1038.05" r="5.35" fill="none" stroke="#000" stroke-width="2.7"/>
<circle cx="1106.15" cy="1081.05" r="5.35" fill="none" stroke="#000" stroke-width="2.7"/>
<circle cx="1122.40" cy="1080.80" r="5.35" fill="none" stroke="#000" stroke-width="2.7"/>
<line x1="1066.15" y1="1041.55" x2="1162.90" y2="1041.55" stroke="#000" stroke-width="1.5" />
<polygon points="1234.15,915.85 1239.80,904.75 1228.50,904.75" fill="#000"/>
<polygon points="1234.15,942.60 1239.80,931.50 1228.50,931.50" fill="#000"/>
<polygon points="1234.15,963.35 1239.80,952.25 1228.50,952.25" fill="#000"/>
<polygon points="1234.15,1001.35 1239.80,990.25 1228.50,990.25" fill="#000"/>
<polygon points="1234.15,1030.35 1239.80,1019.25 1228.50,1019.25" fill="#000"/>
<polygon points="1226.15,1043.85 1231.80,1032.75 1220.50,1032.75" fill="#000"/>
<polygon points="1242.15,1048.85 1247.80,1037.75 1236.50,1037.75" fill="#000"/>
<polygon points="1218.15,1058.85 1223.80,1047.75 1212.50,1047.75" fill="#000"/>
<polygon points="1250.40,1064.60 1256.05,1053.50 1244.75,1053.50" fill="#000"/>
<polygon points="1234.15,1071.60 1239.80,1060.50 1228.50,1060.50" fill="#000"/>
<polygon points="1234.15,1077.10 1239.80,1066.00 1228.50,1066.00" fill="#000"/>
<polygon points="1218.15,1078.35 1223.80,1067.25 1212.50,1067.25" fill="#000"/>
<polygon points="1201.90,1081.35 1207.55,1070.25 1196.25,1070.25" fill="#000"/>
<polygon points="1266.65,1079.60 1272.30,1068.50 1261.00,1068.50" fill="#000"/>
<polygon points="1250.40,1082.85 1256.05,1071.75 1244.75,1071.75" fill="#000"/>
<polygon points="1218.15,1086.60 1223.80,1075.50 1212.50,1075.50" fill="#000"/>
<polygon points="1234.15,1087.85 1239.80,1076.75 1228.50,1076.75" fill="#000"/>
<polygon points="1242.15,1097.10 1247.80,1086.00 1236.50,1086.00" fill="#000"/>
<polygon points="1226.15,1108.85 1231.80,1097.75 1220.50,1097.75" fill="#000"/>
<line x1="1185.90" y1="1066.30" x2="1283.15" y2="1066.30" stroke="#000" stroke-width="1.5" />
<polygon points="1354.40,753.25 1360.05,764.35 1348.75,764.35" fill="#000"/>
<polygon points="1346.40,891.75 1352.05,902.85 1340.75,902.85" fill="#000"/>
<polygon points="1362.40,903.00 1368.05,914.10 1356.75,914.10" fill="#000"/>
<polygon points="1338.40,933.50 1344.05,944.60 1332.75,944.60" fill="#000"/>
<polygon points="1370.65,939.25 1376.30,950.35 1365.00,950.35" fill="#000"/>
<polygon points="1354.40,944.00 1360.05,955.10 1348.75,955.10" fill="#000"/>
<polygon points="1330.40,969.25 1336.05,980.35 1324.75,980.35" fill="#000"/>
<polygon points="1378.65,977.25 1384.30,988.35 1373.00,988.35" fill="#000"/>
<polygon points="1346.40,979.00 1352.05,990.10 1340.75,990.10" fill="#000"/>
<polygon points="1362.40,984.75 1368.05,995.85 1356.75,995.85" fill="#000"/>
<polygon points="1362.40,999.25 1368.05,1010.35 1356.75,1010.35" fill="#000"/>
<polygon points="1346.40,1001.50 1352.05,1012.60 1340.75,1012.60" fill="#000"/>
<polygon points="1362.40,1011.75 1368.05,1022.85 1356.75,1022.85" fill="#000"/>
<polygon points="1346.40,1017.75 1352.05,1028.85 1340.75,1028.85" fill="#000"/>
<polygon points="1322.40,1020.25 1328.05,1031.35 1316.75,1031.35" fill="#000"/>
<polygon points="1386.65,1020.25 1392.30,1031.35 1381.00,1031.35" fill="#000"/>
<polygon points="1338.40,1023.50 1344.05,1034.60 1332.75,1034.60" fill="#000"/>
<polygon points="1354.40,1024.25 1360.05,1035.35 1348.75,1035.35" fill="#000"/>
<polygon points="1370.65,1023.00 1376.30,1034.10 1365.00,1034.10" fill="#000"/>
<polygon points="1322.40,1038.50 1328.05,1049.60 1316.75,1049.60" fill="#000"/>
<polygon points="1386.65,1042.75 1392.30,1053.85 1381.00,1053.85" fill="#000"/>
<polygon points="1338.40,1045.50 1344.05,1056.60 1332.75,1056.60" fill="#000"/>
<polygon points="1370.65,1046.75 1376.30,1057.85 1365.00,1057.85" fill="#000"/>
<polygon points="1354.40,1049.25 1360.05,1060.35 1348.75,1060.35" fill="#000"/>
<polygon points="1330.40,1057.25 1336.05,1068.35 1324.75,1068.35" fill="#000"/>
<polygon points="1378.65,1059.75 1384.30,1070.85 1373.00,1070.85" fill="#000"/>
<polygon points="1346.40,1063.00 1352.05,1074.10 1340.75,1074.10" fill="#000"/>
<polygon points="1362.40,1071.50 1368.05,1082.60 1356.75,1082.60" fill="#000"/>
<polygon points="1322.40,1079.25 1328.05,1090.35 1316.75,1090.35" fill="#000"/>
<polygon points="1386.65,1081.75 1392.30,1092.85 1381.00,1092.85" fill="#000"/>
<polygon points="1338.40,1084.25 1344.05,1095.35 1332.75,1095.35" fill="#000"/>
<polygon points="1370.65,1087.75 1376.30,1098.85 1365.00,1098.85" fill="#000"/>
<polygon points="1354.40,1095.25 1360.05,1106.35 1348.75,1106.35" fill="#000"/>
<line x1="1306.15" y1="1027.80" x2="1402.90" y2="1027.80" stroke="#000" stroke-width="1.5" />
</svg>
</body></html>
